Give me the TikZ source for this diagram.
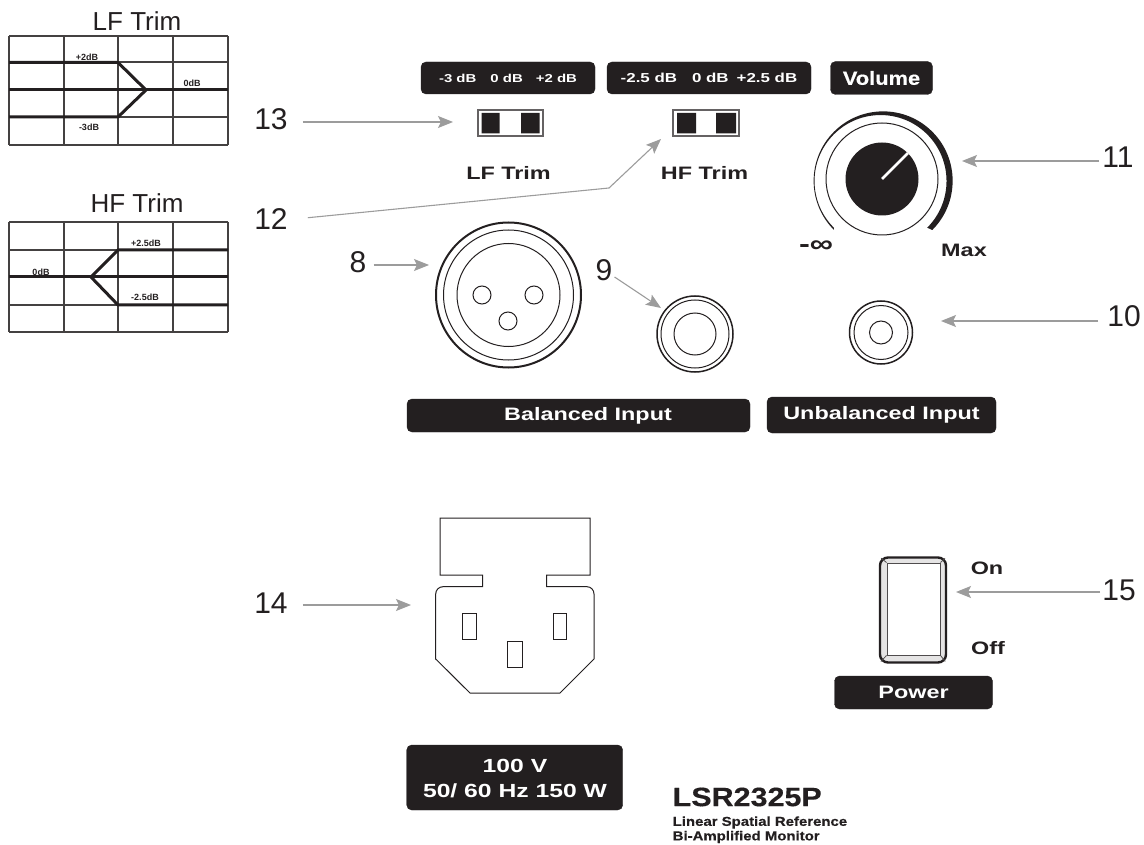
\documentclass[tikz,border=0pt]{standalone}
\usepackage{fontspec}
\setmainfont{Liberation Sans}
\newfontfamily\widefont[FakeStretch=1.3]{Liberation Sans}
\newfontfamily\modelfont[FakeStretch=1.15,BoldFeatures={FakeBold=0.4}]{Liberation Sans}
\usetikzlibrary{arrows.meta,positioning,calc}
\definecolor{panelblack}{HTML}{231F20}
\definecolor{leadgray}{HTML}{9C9C9C}
\begin{document}
\begin{tikzpicture}[x=1pt,y=-1pt,
  num/.style={text=panelblack, inner sep=2pt, font=\fontsize{30}{30}\selectfont},
  title/.style={text=panelblack, inner sep=0pt, font=\fontsize{26}{28}\selectfont},
  tiny/.style={text=panelblack, inner sep=0pt, font=\bfseries\fontsize{9}{9}\selectfont},
  tag/.style={fill=panelblack, draw=panelblack, rounded corners=5pt, text=white, align=center,
    inner sep=0pt, font=\widefont\bfseries\fontsize{18}{25}\selectfont},
  legend/.style={text=panelblack, inner sep=0pt, font=\widefont\bfseries\fontsize{18}{20}\selectfont},
  arr/.style={-{Stealth[length=15pt,width=12pt,inset=3pt]}, draw=leadgray, line width=1.1pt},
  outline/.style={draw=panelblack, line width=1pt},
  thin grid/.style={draw=panelblack!85, line width=1.1pt},
  curve/.style={draw=panelblack, line width=3pt}
]
\useasboundingbox (0,0) rectangle (1144,845);

% trim charts
\node[title] (lftitle) at (137,21) {LF Trim};
\node[title] (hftitle) at (137,203) {HF Trim};
\foreach \xx in {9,64,118,173,228} {
  \draw[thin grid] (\xx,36) -- (\xx,145);
  \draw[thin grid] (\xx,222) -- (\xx,332);
}
\foreach \yy in {36,62,90,117,145,222,250,277,305,332}
  \draw[thin grid] (9,\yy) -- (228,\yy);
\draw[curve] (9,62.5) -- (118,62.5) -- (146,90) -- (118,117) -- (9,117);
\draw[curve] (9,90) -- (228,90);
\draw[curve] (228,250) -- (118,250) -- (91,277) -- (118,305) -- (228,305);
\draw[curve] (9,277) -- (228,277);
\node[tiny] (lfup) at (87,57) {+2dB};
\node[tiny] (lfdown) at (89,127) {-3dB};
\node[tiny] (lfzero) at (192,83) {0dB};
\node[tiny] (hfup) at (146,243) {+2.5dB};
\node[tiny] (hfdown) at (145,297) {-2.5dB};
\node[tiny] (hfzero) at (41,272) {0dB};

% top tags
\node[tag, minimum width=174pt, minimum height=32pt, font=\widefont\bfseries\fontsize{11.5}{14}\selectfont] (lfrange) at (508,78)
  {-3 dB\hspace{14pt}0 dB\hspace{13pt}+2 dB};
\node[tag, minimum width=204pt, minimum height=32pt, font=\widefont\bfseries\fontsize{13}{14}\selectfont] (hfrange) at (709,78)
  {-2.5 dB\hspace{15pt}0 dB\hspace{8pt}+2.5 dB};
\node[tag, minimum width=102pt, minimum height=33pt, font=\modelfont\bfseries\fontsize{19}{20}\selectfont] (voltag) at (881.5,78) {Volume};

% slide switches
\node[draw=panelblack!70, line width=1.3pt, minimum width=65pt, minimum height=26pt, inner sep=0pt] (lfswitch) at (510.5,123) {};
\node[draw=panelblack!70, line width=1.3pt, minimum width=66pt, minimum height=26pt, inner sep=0pt] (hfswitch) at (706,123) {};
\fill[panelblack] (481.5,113) rectangle (499.5,133.5) (521,113) rectangle (539.5,133.5);
\fill[panelblack] (677,113) rectangle (696,133.5) (716,113) rectangle (736,133.5);
\node[legend] (lflabel) at (508.5,173) {LF Trim};
\node[legend] (hflabel) at (704.5,173) {HF Trim};

% volume knob
\fill[panelblack] (834,230) arc[start angle=225,end angle=-45,radius=69.5pt]
  -- ++(-5.1,-2.3) arc[start angle=-45,end angle=225,radius=66pt] -- cycle;
\node[circle, outline, minimum size=112pt, inner sep=0pt] (knobring) at (882,179) {};
\node[circle, fill=panelblack, minimum size=73pt, inner sep=0pt] (knob) at (882,179) {};
\draw[white, line width=2.6pt] (knob.center) -- (knob.45);
\node[legend, font=\widefont\bfseries\fontsize{25}{25}\selectfont] (minlabel) at (816,247) {-∞};
\node[legend] (maxlabel) at (964,250) {Max};

% xlr and jacks
\node[circle, draw=panelblack, line width=2pt, minimum size=145pt, inner sep=0pt] (xlr) at (508.5,295) {};
\node[circle, outline, minimum size=130pt, inner sep=0pt] (xlrring) at (508.5,295) {};
\node[circle, outline, minimum size=103pt, inner sep=0pt] (xlrface) at (508.5,295) {};
\node[circle, outline, minimum size=18pt, inner sep=0pt] (pinleft) at (482,295) {};
\node[circle, outline, minimum size=18pt, inner sep=0pt] (pinright) at (534,295) {};
\node[circle, outline, minimum size=18pt, inner sep=0pt] (pinlow) at (508,321) {};
\node[circle, draw=panelblack, line width=1.5pt, minimum size=76pt, inner sep=0pt] (trs) at (695,334) {};
\node[circle, outline, minimum size=68pt, inner sep=0pt] (trsring) at (695,334) {};
\node[circle, outline, minimum size=42pt, inner sep=0pt] (trshole) at (695,334) {};
\node[circle, draw=panelblack, line width=1.5pt, minimum size=63pt, inner sep=0pt] (rca) at (881,332.5) {};
\node[circle, outline, minimum size=54pt, inner sep=0pt] (rcaring) at (881,332.5) {};
\node[circle, outline, minimum size=23pt, inner sep=0pt] (rcahole) at (881,332.5) {};
\node[tag, minimum width=343pt, minimum height=33pt] (baltag) at (578.5,415.5) {\hspace*{19pt}Balanced Input};
\node[tag, minimum width=229pt, minimum height=36pt] (unbaltag) at (881.5,415) {Unbalanced Input};

% power inlet
\draw[outline] (440,518) -- (590,518) -- (590,575) -- (546.7,575) -- (546.7,586.7)
  -- (587,586.7) to[out=0,in=90] (594,594) -- (594,659) -- (560,693) -- (470,693)
  -- (435.7,659) -- (435.7,594) to[out=90,in=180] (443,586.7) -- (482.7,586.7)
  -- (482.7,575) -- (440,575) -- cycle;
\draw[outline] (462.3,613) rectangle (476.7,639);
\draw[outline] (553,613) rectangle (566,639);
\draw[outline] (507.7,641.7) rectangle (522,667);
\node[tag, minimum width=216pt, minimum height=65pt] (ratingtag) at (514.7,777.5) {};
\node[text=white, align=center, inner sep=0pt, font=\widefont\bfseries\fontsize{19}{25}\selectfont] (ratingtext) at (515,779) {100 V\\50/ 60 Hz 150 W};

% model
\node[anchor=west, inner sep=0pt, text=panelblack, font=\modelfont\bfseries\fontsize{26.5}{27}\selectfont] (model) at (672.5,797) {LSR2325P};
\node[anchor=west, inner sep=0pt, text=panelblack, font=\modelfont\bfseries\fontsize{13}{13}\selectfont] (modelline) at (672.5,822.5) {Linear Spatial Reference};
\node[anchor=west, inner sep=0pt, text=panelblack, font=\modelfont\bfseries\fontsize{13}{13}\selectfont] (modeltype) at (672.5,837) {Bi-Amplified Monitor};

% power switch
\node[fill=panelblack!12, draw=panelblack, line width=2.4pt, rounded corners=8pt, minimum width=66pt, minimum height=105pt, inner sep=0pt] (rocker) at (913,610) {};
\node[fill=white, draw=panelblack!80, line width=1pt, minimum width=53pt, minimum height=92pt, inner sep=0pt] (rockerface) at (913.5,609) {};
\foreach \cc in {north west,north east,south west,south east}
  \draw[panelblack!80, line width=0.8pt, shorten <=3pt] (rocker.\cc) -- (rockerface.\cc);
\node[legend] (onlabel) at (987,568) {On};
\node[legend] (offlabel) at (988,648) {Off};
\node[tag, minimum width=158pt, minimum height=33pt] (powertag) at (913.5,692.5) {Power};

% numbered leaders
\node[num] (n13) at (271,119.5) {13};
\node[num] (n12) at (271,219.5) {12};
\node[num] (n11) at (1118,157) {11};
\node[num] (n10) at (1124,316.5) {10};
\node[num] (n8) at (358,262) {8};
\node[num] (n9) at (604,270) {9};
\node[num] (n14) at (271,603) {14};
\node[num] (n15) at (1119,590) {15};
\coordinate (t13) at (453,122);
\coordinate (bend12) at (609,188);
\coordinate (t12) at (661,139);
\coordinate (t11) at (962,161);
\coordinate (t10) at (941,321);
\coordinate (t8) at (429,265);
\coordinate (t9) at (661,308);
\coordinate (t14) at (411,605);
\coordinate (t15) at (956,592);
\draw[arr, shorten <=13pt] (n13.east |- t13) -- (t13);
\draw[arr, shorten <=18pt] (n12.east) -- (bend12) -- (t12);
\draw[arr, shorten <=1pt] (n11.west |- t11) -- (t11);
\draw[arr, shorten <=7pt] (n10.west |- t10) -- (t10);
\draw[arr, shorten <=5pt] (n8.east |- t8) -- (t8);
\draw[arr] (n9) -- (t9);
\draw[arr, shorten <=13pt] (n14.east |- t14) -- (t14);
\draw[arr] (n15.west |- t15) -- (t15);
\end{tikzpicture}
\end{document}
